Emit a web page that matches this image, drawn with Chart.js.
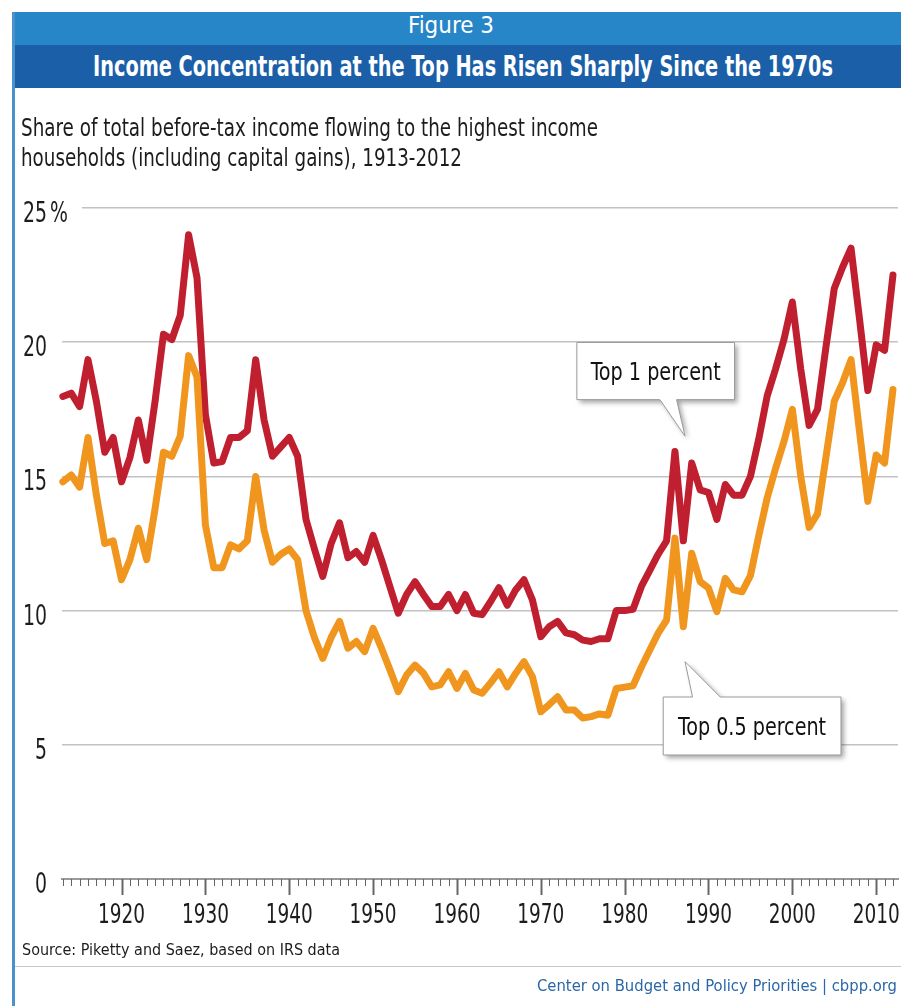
<!DOCTYPE html>
<html>
<head>
<meta charset="utf-8">
<script src="https://cdn.jsdelivr.net/npm/chart.js@4.4.0/dist/chart.umd.min.js"></script>
<style>
  body { margin: 0; width: 901px; height: 1006px; overflow: hidden; background: #fff; position: relative; }
  #chart { position: absolute; left: 0; top: 0; }
  .blk { position: absolute; }
  .txt { position: absolute; white-space: nowrap; line-height: 1; font-family: "Liberation Sans Narrow", "DejaVu Sans Condensed", "Liberation Sans", sans-serif; transform-origin: 0 0; }
</style>
</head>
<body>
<canvas id="chart" width="901" height="1006"></canvas>

<div class="blk" style="left:12px; top:12px; width:889px; height:33px; background:#2786c8;"></div>
<div class="blk" style="left:12px; top:45px; width:889px; height:43px; background:#1b5fa8;"></div>
<div class="blk" style="left:12px; top:12px; width:3px; height:994px; background:#4b92cc;"></div>
<div class="blk" style="left:15px; top:966px; width:886px; height:1px; background:#c8c8c8;"></div>

<div class="txt" id="fig" style="color:#fff; font-size:23px;">Figure 3</div>
<div class="txt" id="title" style="color:#fff; font-size:29px; font-weight:bold;">Income Concentration at the Top Has Risen Sharply Since the 1970s</div>
<div class="txt" id="sub1" style="color:#1c1c1c; font-size:25px;">Share of total before-tax income flowing to the highest income</div>
<div class="txt" id="sub2" style="color:#1c1c1c; font-size:25px;">households (including capital gains), 1913-2012</div>
<div class="txt" id="source" style="color:#1c1c1c; font-size:15px;">Source: Piketty and Saez, based on IRS data</div>
<div class="txt" id="footer" style="color:#2a66a8; font-size:16px;">Center on Budget and Policy Priorities | cbpp.org</div>

<script>
// years on the x axis
const years = [
  1913, 1914, 1915, 1916, 1917, 1918, 1919,
  1920, 1921, 1922, 1923, 1924, 1925, 1926, 1927, 1928, 1929,
  1930, 1931, 1932, 1933, 1934, 1935, 1936, 1937, 1938, 1939,
  1940, 1941, 1942, 1943, 1944, 1945, 1946, 1947, 1948, 1949,
  1950, 1951, 1952, 1953, 1954, 1955, 1956, 1957, 1958, 1959,
  1960, 1961, 1962, 1963, 1964, 1965, 1966, 1967, 1968, 1969,
  1970, 1971, 1972, 1973, 1974, 1975, 1976, 1977, 1978, 1979,
  1980, 1981, 1982, 1983, 1984, 1985, 1986, 1987, 1988, 1989,
  1990, 1991, 1992, 1993, 1994, 1995, 1996, 1997, 1998, 1999,
  2000, 2001, 2002, 2003, 2004, 2005, 2006, 2007, 2008, 2009,
  2010, 2011, 2012
];

// share of income, top 1 percent
const top1 = [
  17.98, 18.1, 17.6, 19.35, 17.8, 15.9, 16.45,
  14.8, 15.7, 17.1, 15.6, 17.8, 20.3, 20.1, 21.0, 24.0, 22.4,
  17.3, 15.5, 15.55, 16.45, 16.45, 16.7, 19.35, 17.1, 15.75, 16.1,
  16.45, 15.75, 13.4, 12.3, 11.27, 12.5, 13.27, 11.97, 12.2, 11.8,
  12.8, 11.9, 10.9, 9.9, 10.6, 11.08, 10.6, 10.15, 10.15, 10.6,
  10.0, 10.6, 9.9, 9.85, 10.33, 10.85, 10.2, 10.77, 11.15, 10.4,
  9.03, 9.4, 9.6, 9.17, 9.1, 8.9, 8.85, 8.95, 8.95, 10.0,
  10.0, 10.05, 10.9, 11.5, 12.1, 12.6, 15.93, 12.6, 15.5, 14.5,
  14.4, 13.4, 14.7, 14.3, 14.3, 15.0, 16.4, 18.0, 19.0, 20.1,
  21.5, 19.0, 16.9, 17.5, 19.8, 22.0, 22.8, 23.5, 20.9, 18.2,
  19.9, 19.7, 22.5
];

// share of income, top 0.5 percent
const top05 = [
  14.8, 15.05, 14.6, 16.45, 14.3, 12.5, 12.6,
  11.15, 11.9, 13.07, 11.9, 13.8, 15.9, 15.75, 16.5, 19.5, 18.7,
  13.2, 11.6, 11.6, 12.45, 12.3, 12.6, 15.0, 13.0, 11.8, 12.1,
  12.3, 11.9, 10.0, 9.0, 8.22, 9.0, 9.6, 8.6, 8.85, 8.47,
  9.34, 8.6, 7.8, 6.98, 7.6, 7.97, 7.67, 7.16, 7.23, 7.72,
  7.1, 7.66, 7.04, 6.92, 7.3, 7.72, 7.16, 7.66, 8.1, 7.54,
  6.23, 6.5, 6.79, 6.3, 6.3, 6.0, 6.05, 6.15, 6.1, 7.1,
  7.15, 7.2, 7.9, 8.53, 9.16, 9.65, 12.7, 9.4, 12.14, 11.08,
  10.84, 9.96, 11.2, 10.77, 10.7, 11.3, 12.8, 14.2, 15.3, 16.3,
  17.5, 15.0, 13.1, 13.6, 15.7, 17.8, 18.5, 19.35, 16.7, 14.07,
  15.8, 15.5, 18.24
];

const yTicks = [0, 5, 10, 15, 20, 25];
const xLabels = [1920, 1930, 1940, 1950, 1960, 1970, 1980, 1990, 2000, 2010];

const FONT = '"Liberation Sans Narrow", "DejaVu Sans Condensed", "Liberation Sans", sans-serif';

// callouts in data units: box corners, pointer base and tip
const callouts = [
  { text: "Top 1 percent", x0: 1974.3, x1: 1993.1, y0: 17.86, y1: 19.99, side: "bottom",
    baseL: 1984.2, baseR: 1986.2, tipX: 1987.2, tipY: 16.5, width: 130 },
  { text: "Top 0.5 percent", x0: 1984.6, x1: 2005.8, y0: 4.62, y1: 6.78, side: "top",
    baseL: 1988.1, baseR: 1991.4, tipX: 1987.2, tipY: 8.1, width: 148 }
];

// fit html text to a measured width
function place(id, left, top, width, center) {
  const el = document.getElementById(id);
  const w = el.getBoundingClientRect().width;
  el.style.transform = "scaleX(" + (width / w) + ")";
  el.style.left = (center ? left - width / 2 : left) + "px";
  el.style.top = top + "px";
}
place("fig", 451, 14, 86, true);
place("title", 463, 52, 740, true);
place("sub1", 21, 115, 577);
place("sub2", 21, 145, 441);
place("source", 22, 943, 318);
place("footer", 537, 978, 360);

function fitText(ctx, text, x, y, scale, align) {
  const w = ctx.measureText(text).width * scale;
  let left = x;
  if (align === "right") left = x - w;
  if (align === "center") left = x - w / 2;
  ctx.save();
  ctx.translate(left, y);
  ctx.scale(scale, 1);
  ctx.textAlign = "left";
  ctx.fillText(text, 0, 0);
  ctx.restore();
}

const decor = {
  id: "decor",
  afterDraw(chart) {
    const ctx = chart.ctx;
    const xs = chart.scales.x;
    const ys = chart.scales.y;
    const base = ys.getPixelForValue(0);

    ctx.save();
    // year ticks
    ctx.strokeStyle = "#666";
    years.forEach(yr => {
      const px = Math.round(xs.getPixelForValue(yr)) + 0.5;
      const major = yr % 10 === 0;
      ctx.lineWidth = major ? 2 : 1;
      ctx.beginPath();
      ctx.moveTo(px, base);
      ctx.lineTo(px, base + (major ? 16 : 7));
      ctx.stroke();
    });

    // x labels
    ctx.fillStyle = "#1c1c1c";
    ctx.font = "27px " + FONT;
    ctx.textBaseline = "alphabetic";
    const sx = 47 / ctx.measureText("1920").width;
    xLabels.forEach(yr => {
      fitText(ctx, String(yr), xs.getPixelForValue(yr), base + 44, sx, "center");
    });

    // y labels
    ctx.font = "28px " + FONT;
    const sy = 24 / ctx.measureText("20").width;
    yTicks.forEach(v => {
      const py = ys.getPixelForValue(v);
      if (v === 25) {
        ctx.fillStyle = "#fff";
        ctx.fillRect(chart.chartArea.left - 2, py - 3, 22, 6);
        ctx.fillStyle = "#1c1c1c";
        fitText(ctx, "%", 50, py + 14, sy, "left");
      }
      fitText(ctx, String(v), 47, py + 14, sy, "right");
    });

    // callouts
    callouts.forEach(c => {
      const L = xs.getPixelForValue(c.x0), R = xs.getPixelForValue(c.x1);
      const T = ys.getPixelForValue(c.y1), B = ys.getPixelForValue(c.y0);
      const bl = xs.getPixelForValue(c.baseL), br = xs.getPixelForValue(c.baseR);
      const tx = xs.getPixelForValue(c.tipX), ty = ys.getPixelForValue(c.tipY);
      ctx.beginPath();
      if (c.side === "bottom") {
        ctx.moveTo(L, T); ctx.lineTo(R, T); ctx.lineTo(R, B);
        ctx.lineTo(br, B); ctx.lineTo(tx, ty); ctx.lineTo(bl, B);
        ctx.lineTo(L, B);
      } else {
        ctx.moveTo(L, T); ctx.lineTo(bl, T); ctx.lineTo(tx, ty);
        ctx.lineTo(br, T); ctx.lineTo(R, T); ctx.lineTo(R, B);
        ctx.lineTo(L, B);
      }
      ctx.closePath();
      ctx.save();
      ctx.shadowColor = "rgba(0,0,0,0.35)";
      ctx.shadowBlur = 5;
      ctx.shadowOffsetX = 3;
      ctx.shadowOffsetY = 3;
      ctx.fillStyle = "#fff";
      ctx.fill();
      ctx.restore();
      ctx.strokeStyle = "#9a9a9a";
      ctx.lineWidth = 1;
      ctx.stroke();

      ctx.fillStyle = "#111";
      ctx.font = "25px " + FONT;
      const s = c.width / ctx.measureText(c.text).width;
      fitText(ctx, c.text, (L + R) / 2, (T + B) / 2 + 9, s, "center");
    });
    ctx.restore();
  }
};

const ctx = document.getElementById("chart").getContext("2d");
new Chart(ctx, {
  type: "line",
  data: {
    datasets: [
      {
        label: "Top 0.5 percent",
        data: years.map((yr, i) => ({ x: yr, y: top05[i] })),
        borderColor: "#f0961e",
        order: 0
      },
      {
        label: "Top 1 percent",
        data: years.map((yr, i) => ({ x: yr, y: top1[i] })),
        borderColor: "#bf1f2e",
        order: 1
      }
    ]
  },
  options: {
    responsive: false,
    animation: false,
    devicePixelRatio: 1,
    layout: { padding: { left: 62, right: 3, top: 208, bottom: 127 } },
    elements: {
      line: { borderWidth: 7, tension: 0, borderJoinStyle: "round", borderCapStyle: "round", fill: false },
      point: { radius: 0, hoverRadius: 0 }
    },
    datasets: { line: { clip: 10 } },
    plugins: { legend: { display: false }, tooltip: { enabled: false }, title: { display: false } },
    scales: {
      x: {
        type: "linear",
        min: 1912.9,
        max: 2012.6,
        ticks: { display: false },
        grid: { display: false, drawTicks: false },
        border: { display: true, color: "#9a9a9a", width: 2 },
        afterFit: s => { s.height = 0; }
      },
      y: {
        min: 0,
        max: 25,
        ticks: { display: false, stepSize: 5 },
        grid: { color: "#c2c2c2", lineWidth: 1.5, drawTicks: false },
        border: { display: false },
        afterFit: s => { s.width = 0; }
      }
    }
  },
  plugins: [decor]
});
</script>
</body>
</html>
